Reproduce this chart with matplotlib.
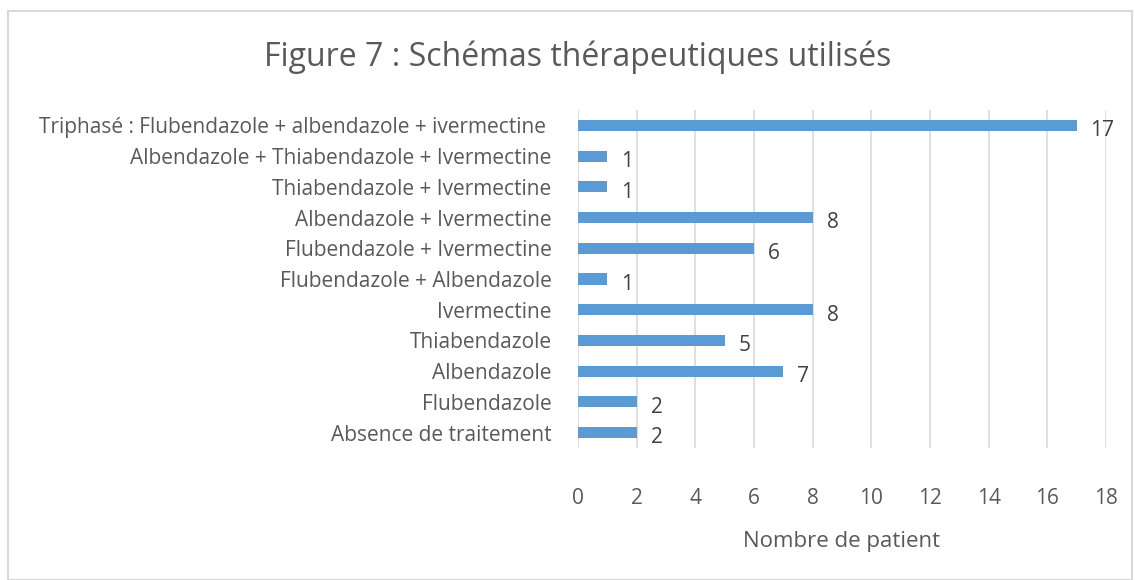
import matplotlib.pyplot as plt
from matplotlib.patches import Rectangle

# data, bottom to top as drawn
categories = [
    "Absence de traitement",
    "Flubendazole",
    "Albendazole",
    "Thiabendazole",
    "Ivermectine",
    "Flubendazole + Albendazole",
    "Flubendazole + Ivermectine",
    "Albendazole + Ivermectine",
    "Thiabendazole + Ivermectine",
    "Albendazole + Thiabendazole + Ivermectine",
    "Triphasé : Flubendazole + albendazole + ivermectine ",
]
patients = [2, 2, 7, 5, 8, 1, 6, 8, 1, 1, 17]
xticks = [0, 2, 4, 6, 8, 10, 12, 14, 16, 18]

plt.rcParams['font.family'] = ['Open Sans', 'DejaVu Sans']

fig = plt.figure(figsize=(11.35, 5.80), dpi=100)
fig.patches.append(Rectangle((8 / 1135, 0), 1124 / 1135, 1 - 11 / 580,
                             transform=fig.transFigure, fill=False,
                             edgecolor="#D9D9D9", linewidth=1.5))

ax = fig.add_axes([578 / 1135, 1 - 448 / 580, 528 / 1135, 338 / 580])
ypos = list(range(len(categories)))
bars = ax.barh(ypos, patients, height=0.36, color="#5B9BD5", zorder=3)

for y, v in zip(ypos, patients):
    ax.annotate(str(v), (v, y), xytext=(10, -2), textcoords="offset points",
                va="center_baseline", ha="left", fontsize=15, color="#404040",
                zorder=4)

ax.set_xlim(0, 18)
ax.set_ylim(-0.5, len(categories) - 0.5)
ax.set_xticks(xticks)
ax.set_yticks(ypos)
ax.set_yticklabels(categories)
ax.grid(axis="x", color="#D9D9D9", linewidth=1.2, zorder=0)
for s in ax.spines.values():
    s.set_visible(False)
ax.tick_params(axis="y", length=0, pad=19, labelsize=15, labelcolor="#595959")
ax.tick_params(axis="x", length=0, pad=29, labelsize=15, labelcolor="#595959")
ax.set_xlabel("Nombre de patient", fontsize=16, color="#595959", labelpad=16)

fig.text(578 / 1135, 1 - 57 / 580, "Figure 7 : Schémas thérapeutiques utilisés",
         ha="center", va="center", fontsize=23, color="#595959")

plt.savefig("out.png", dpi=100)
